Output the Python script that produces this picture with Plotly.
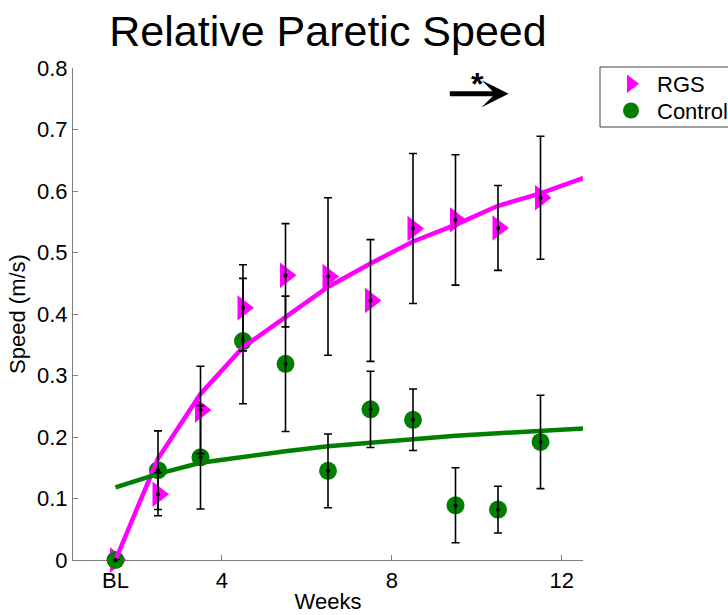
import plotly.graph_objects as go

# ---- data ----
weeks = [1.5, 2.5, 3.5, 4.5, 5.5, 6.5, 7.5, 8.5, 9.5, 10.5, 11.5]
rgs = [0.0, 0.107, 0.244, 0.410, 0.463, 0.461, 0.422, 0.539, 0.553, 0.540, 0.589]
rgs_err = [0.0, 0.035, 0.071, 0.070, 0.084, 0.128, 0.099, 0.122, 0.106, 0.069, 0.100]
ctrl = [0.0, 0.146, 0.167, 0.356, 0.319, 0.145, 0.245, 0.228, 0.089, 0.082, 0.192]
ctrl_err = [0.0, 0.064, 0.084, 0.102, 0.110, 0.060, 0.062, 0.050, 0.061, 0.038, 0.076]

fit_weeks = [1.5, 2.5, 3.5, 4.5, 5.5, 6.5, 7.5, 8.5, 9.5, 10.5, 11.5, 12.5]
rgs_fit = [0.0, 0.165, 0.270, 0.346, 0.395, 0.444, 0.482, 0.518, 0.545, 0.576, 0.596, 0.621]
ctrl_fit = [0.118, 0.140, 0.158, 0.168, 0.177, 0.185, 0.191, 0.197, 0.202, 0.206, 0.210, 0.214]

x_tickvals = [1.5, 4, 8, 12]
x_ticktext = ["BL", "4", "8", "12"]
y_tickvals = [0, 0.1, 0.2, 0.3, 0.4, 0.5, 0.6, 0.7, 0.8]
y_ticktext = ["0", "0.1", "0.2", "0.3", "0.4", "0.5", "0.6", "0.7", "0.8"]

MAGENTA = "#FF00FF"
GREEN = "#007F00"
FONT = "Liberation Sans, Arial, sans-serif"

fig = go.Figure()

fig.add_trace(go.Scatter(
    x=weeks, y=rgs, mode="markers", name="RGS", legend="legend",
    marker=dict(symbol="triangle-right", size=22, color=MAGENTA),
    cliponaxis=False,
))
fig.add_trace(go.Scatter(
    x=weeks, y=ctrl, mode="markers", name="Control", legend="legend2",
    marker=dict(symbol="circle", size=18, color=GREEN),
    cliponaxis=False,
))
fig.add_trace(go.Scatter(
    x=fit_weeks, y=rgs_fit, mode="lines", showlegend=False,
    line=dict(color=MAGENTA, width=4.5), cliponaxis=False,
))
fig.add_trace(go.Scatter(
    x=fit_weeks, y=ctrl_fit, mode="lines", showlegend=False,
    line=dict(color=GREEN, width=4.5), cliponaxis=False,
))
for yy, ee in ((rgs, rgs_err), (ctrl, ctrl_err)):
    fig.add_trace(go.Scatter(
        x=weeks, y=yy, mode="markers", showlegend=False,
        marker=dict(symbol="circle", size=4, color="black"),
        error_y=dict(type="data", array=ee, color="black", thickness=1.6, width=4),
        cliponaxis=False,
    ))

L, R, T, B = 73, 145, 68, 55
W, H = 728, 615
pw, ph = W - L - R, H - T - B

def px_x(p):
    return (p - L) / pw

def px_y(p):
    return (H - B - p) / ph

# legend box
fig.add_shape(type="rect", xref="paper", yref="paper",
              x0=px_x(600), x1=px_x(740), y0=px_y(127), y1=px_y(67),
              line=dict(color="#404040", width=1), fillcolor="white", layer="below")

# arrow with asterisk
fig.add_annotation(x=10.75, y=0.758, ax=9.33, ay=0.758, xref="x", yref="y",
                   axref="x", ayref="y", text="", showarrow=True,
                   arrowhead=3, arrowsize=0.9, arrowwidth=5, arrowcolor="black")
fig.add_annotation(x=10.02, y=0.774, xref="x", yref="y", text="<b>*</b>",
                   showarrow=False, font=dict(family=FONT, size=32, color="black"))

axis_common = dict(
    showline=True, linecolor="#808080", linewidth=1.2,
    ticks="inside", ticklen=5, tickcolor="#808080", tickwidth=1,
    showgrid=False, zeroline=False, mirror=False,
    tickfont=dict(family=FONT, size=22, color="black"),
    layer="below traces",
)

legend_common = dict(xanchor="left", yanchor="middle", itemwidth=42,
                     bgcolor="rgba(0,0,0,0)", borderwidth=0,
                     font=dict(family=FONT, size=22, color="black"))

fig.update_layout(
    width=W, height=H,
    margin=dict(l=L, r=R, t=T, b=B, autoexpand=False),
    paper_bgcolor="white", plot_bgcolor="white",
    title=dict(text="Relative Paretic Speed", x=328 / W,
               xanchor="center", y=1 - 31 / H, yanchor="middle",
               font=dict(family=FONT, size=43, color="black")),
    xaxis=dict(range=[0.5, 12.5], tickvals=x_tickvals, ticktext=x_ticktext,
               title=dict(text="Weeks", font=dict(family=FONT, size=22, color="black"),
                          standoff=2),
               **axis_common),
    yaxis=dict(range=[0, 0.8], tickvals=y_tickvals, ticktext=y_ticktext,
               title=dict(text="Speed (m/s)", font=dict(family=FONT, size=22, color="black"),
                          standoff=5),
               **axis_common),
    legend=dict(x=px_x(605), y=px_y(84), **legend_common),
    legend2=dict(x=px_x(605), y=px_y(110.7), **legend_common),
    showlegend=True,
)

fig.write_html("out.html")
